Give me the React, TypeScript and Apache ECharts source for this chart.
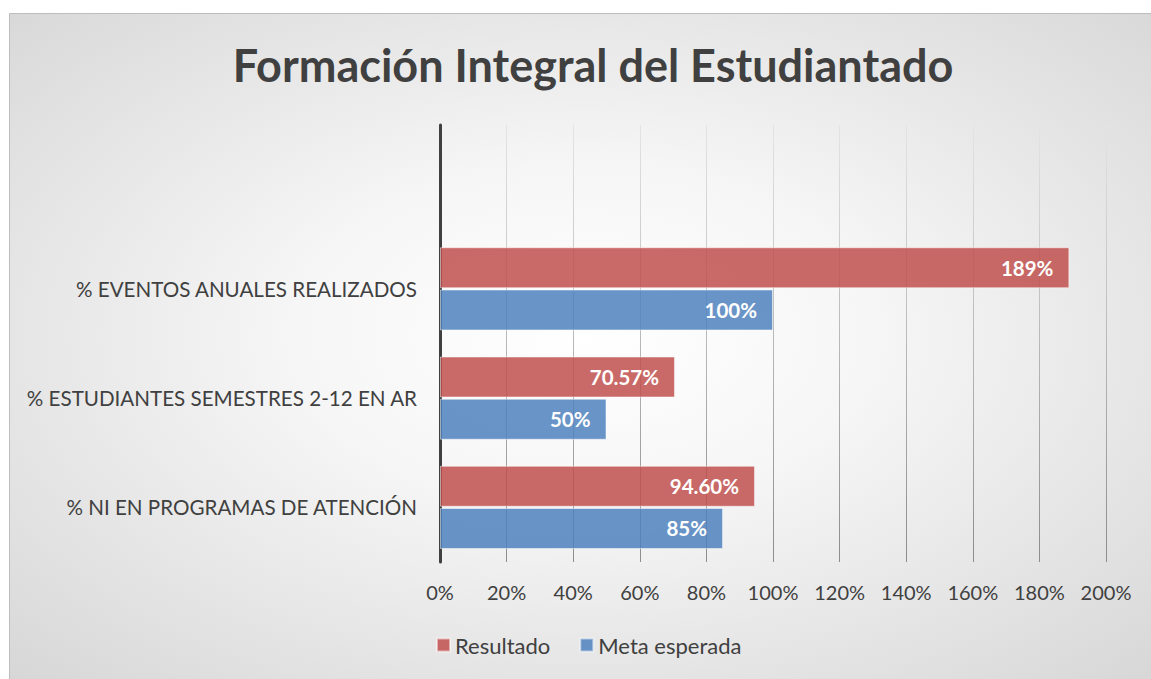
import React, { useEffect, useRef } from "react";
import * as echarts from "echarts";

const categories = [
  "% NI EN PROGRAMAS DE ATENCIÓN",
  "% ESTUDIANTES SEMESTRES 2-12 EN AR",
  "% EVENTOS ANUALES REALIZADOS",
  "",
];
const resultado: (number | null)[] = [94.6, 70.57, 189, null];
const meta: (number | null)[] = [85, 50, 100, null];
const resultadoLabels = ["94.60%", "70.57%", "189%", ""];
const metaLabels = ["85%", "50%", "100%", ""];
const seriesNames = ["Resultado", "Meta esperada"];
const titleText = "Formación Integral del Estudiantado";

const FONT = "Lato, 'Open Sans', sans-serif";

export default function App() {
  const ref = useRef<HTMLDivElement>(null);
  useEffect(() => {
    if (!ref.current) return;
    const chart = echarts.init(ref.current, undefined, { renderer: "svg" });
    const labelStyle = (labels: string[]) => ({
      show: true,
      position: "insideRight",
      distance: 16,
      color: "#ffffff",
      fontWeight: "bold",
      fontSize: 20.5,
      fontFamily: FONT,
      formatter: (p: any) => labels[p.dataIndex],
    });
    chart.setOption({
      animation: false,
      graphic: [
        {
          type: "rect",
          z: -10,
          silent: true,
          shape: { x: 9.5, y: 13.5, width: 1150, height: 670 },
          style: {
            fill: new echarts.graphic.RadialGradient(0.5, 0.48, 1.0, [
              { offset: 0, color: "#ffffff" },
              { offset: 0.25, color: "#f6f6f6" },
              { offset: 1, color: "#c4c4c4" },
            ]),
            stroke: "#bdbdbd",
            lineWidth: 1,
          },
        },
        {
          type: "text",
          x: 593,
          y: 65,
          style: {
            text: titleText,
            fontSize: 45,
            fontWeight: "bold",
            fontFamily: FONT,
            fill: "#404040",
            align: "center",
            verticalAlign: "middle",
          },
        },
      ],
      grid: { left: 440, right: 45, top: 125, bottom: 117, containLabel: false },
      legend: {
        data: seriesNames,
        left: 431,
        top: 629,
        icon: "rect",
        itemWidth: 13,
        itemHeight: 13,
        itemGap: 29,
        textStyle: { fontSize: 22, color: "#404040", fontFamily: FONT },
      },
      xAxis: {
        type: "value",
        min: 0,
        max: 200,
        interval: 20,
        axisLine: { show: false },
        axisTick: { show: false },
        axisLabel: {
          formatter: "{value}%",
          fontSize: 20,
          color: "#404040",
          fontFamily: FONT,
          margin: 20,
        },
        splitLine: {
          show: true,
          lineStyle: {
            width: 1,
            color: {
              type: "linear",
              x: 0,
              y: 125,
              x2: 0,
              y2: 562,
              global: true,
              colorStops: [
                { offset: 0, color: "#e4e4e4" },
                { offset: 1, color: "#8c8c8c" },
              ],
            },
          },
        },
      },
      yAxis: {
        type: "category",
        data: categories,
        axisLine: { show: true, lineStyle: { color: "#404040", width: 3 } },
        axisTick: { show: false },
        splitLine: { show: false },
        axisLabel: {
          fontSize: 20.6,
          color: "#404040",
          fontFamily: FONT,
          margin: 23,
        },
      },
      series: [
        {
          name: seriesNames[0],
          type: "bar",
          data: resultado,
          barWidth: 41,
          barGap: "3%",
          itemStyle: {
            color: "rgba(192,80,77,0.85)",
            borderColor: "rgba(255,255,255,0.5)",
            borderWidth: 1,
          },
          label: labelStyle(resultadoLabels),
        },
        {
          name: seriesNames[1],
          type: "bar",
          data: meta,
          barWidth: 41,
          barGap: "3%",
          itemStyle: {
            color: "rgba(79,129,189,0.85)",
            borderColor: "rgba(255,255,255,0.5)",
            borderWidth: 1,
          },
          label: labelStyle(metaLabels),
        },
      ],
    });
    return () => chart.dispose();
  }, []);
  return (
    <div
      ref={ref}
      style={{ position: "absolute", left: 0, top: 0, width: 1151, height: 679, background: "#ffffff" }}
    />
  );
}
